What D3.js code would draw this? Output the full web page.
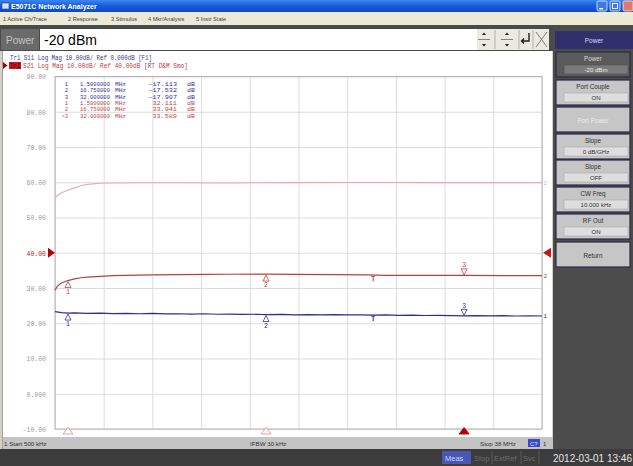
<!DOCTYPE html>
<html>
<head>
<meta charset="utf-8">
<script src="https://cdn.jsdelivr.net/npm/d3@7/dist/d3.min.js"></script>
<style>
  html, body { margin: 0; padding: 0; background: #3c3c3c; }
  svg { display: block; }
</style>
</head>
<body>
<svg id="screen" width="633" height="466"></svg>
<script>
// E5071C screen: S11 / S21 log-mag sweep, 500 kHz .. 38 MHz

const startMHz = 0.5, stopMHz = 38;
const yTickValues = [90, 80, 70, 60, 50, 40, 30, 20, 10, 0, -10];
const yTickLabels = ["90.00", "80.00", "70.00", "60.00", "50.00", "40.00", "30.00", "20.00", "10.00", "0.000", "-10.00"];
const refLevel = 40;        // Tr2 reference line (grid labels follow Tr2)
const s11Offset = 40;       // Tr1 ref 0 dB sits on the same division

// Tr2 S21 (dB)
const s21Freq = [0.5, 0.7, 1.0, 1.5, 2, 2.5, 3, 4, 5, 6, 8, 10, 12, 14, 16.75, 19, 22, 24.5, 26, 28, 30, 32, 35, 38];
const s21Db   = [29.4, 30.6, 31.4, 32.11, 32.6, 32.9, 33.1, 33.3, 33.5, 33.6, 33.75, 33.8, 33.85, 33.9, 33.94, 33.85, 33.8, 33.75, 33.6, 33.6, 33.6, 33.59, 33.5, 33.5];

// Tr1 S11 (dB)
const s11Freq = [0.5, 1, 1.5, 2, 3, 4, 5, 6, 7, 8, 9, 10, 11, 12, 13, 14, 15, 16, 16.75, 18, 19, 20, 21, 22, 23, 24, 25, 26, 27, 28, 29, 30, 31, 32, 33, 34, 35, 36, 37, 38];
const s11Db   = [-16.7, -17.0, -17.11, -17.05, -17.2, -17.1, -17.25, -17.2, -17.3, -17.2, -17.35, -17.3, -17.4, -17.3, -17.45, -17.4, -17.5, -17.45, -17.53, -17.5, -17.6, -17.55, -17.6, -17.55, -17.65, -17.6, -17.7, -17.65, -17.75, -17.7, -17.8, -17.75, -17.85, -17.91, -17.85, -17.9, -17.85, -17.95, -17.9, -17.95];

// memory trace (light pink, grid scale)
const memFreq = [0.5, 0.7, 1.0, 1.5, 2, 2.5, 3, 4, 5, 7, 10, 14, 18, 22, 26, 30, 34, 38];
const memDb   = [55.5, 56.3, 57.0, 57.7, 58.4, 59.0, 59.4, 59.7, 59.8, 59.85, 59.85, 59.8, 59.9, 59.95, 59.95, 59.9, 59.9, 59.9];

// markers
const markerFreq = [1.5, 16.75, 32];
const markerS11  = [-17.113, -17.532, -17.907];
const markerS21  = [32.111, 33.941, 33.589];
const refTickFreq = 25;
const refTickS21 = 33.6, refTickS11 = -17.7;

const menuItems = ["1 Active Ch/Trace", "2 Response", "3 Stimulus", "4 Mkr/Analysis", "5 Instr State"];
const menuX = [3, 68, 111, 148, 196];

const softkeys = [
  { label: "Power", value: "-20 dBm", sel: true },
  { label: "Port Couple", value: "ON" },
  { label: "Port Power", value: null, disabled: true },
  { label: "Slope", value: "0 dB/GHz" },
  { label: "Slope", value: "OFF" },
  { label: "CW Freq", value: "10.000 kHz" },
  { label: "RF Out", value: "ON" },
  { label: "Return", value: null },
];
const softkeyTop = [52, 80, 107, 134, 160, 187, 214, 242];
const softkeyH = 25;

const UI = "'Liberation Sans', Arial, sans-serif";
const MONO = "'Liberation Mono', 'DejaVu Sans Mono', monospace";

const svg = d3.select("#screen");
const defs = svg.append("defs");

// ---------- window chrome ----------
const tg = defs.append("linearGradient").attr("id", "titleGrad").attr("x1", 0).attr("y1", 0).attr("x2", 0).attr("y2", 1);
tg.append("stop").attr("offset", "0%").attr("stop-color", "#3d86f0");
tg.append("stop").attr("offset", "45%").attr("stop-color", "#1a5ede");
tg.append("stop").attr("offset", "100%").attr("stop-color", "#0b48c4");

svg.append("rect").attr("width", 633).attr("height", 466).attr("fill", "#d4d0c8");
svg.append("rect").attr("width", 633).attr("height", 12).attr("fill", "url(#titleGrad)");
svg.append("rect").attr("x", 2).attr("y", 3).attr("width", 7).attr("height", 6).attr("fill", "#d8e4f8").attr("stroke", "#203c80").attr("stroke-width", 0.6);
svg.append("text").attr("x", 11).attr("y", 9).attr("fill", "#fff").attr("font-family", UI)
  .attr("font-size", 7).attr("font-weight", 700).text("E5071C Network Analyzer");

const winBtns = [{ x: 597, c: "#3f78ea" }, { x: 610, c: "#3f78ea" }, { x: 623, c: "#e07a6a" }];
svg.selectAll(".winbtn").data(winBtns).join("rect")
  .attr("x", d => d.x).attr("y", 1).attr("width", 10).attr("height", 10).attr("rx", 1.5)
  .attr("fill", d => d.c).attr("stroke", "#fff").attr("stroke-width", 0.7);
svg.append("rect").attr("x", 599).attr("y", 8).attr("width", 4).attr("height", 1.4).attr("fill", "#fff");
svg.append("rect").attr("x", 612.5).attr("y", 3.5).attr("width", 5).attr("height", 5).attr("fill", "none").attr("stroke", "#fff").attr("stroke-width", 0.9);

svg.append("rect").attr("y", 12).attr("width", 633).attr("height", 13).attr("fill", "#ece9d8");
svg.selectAll(".menu").data(menuItems).join("text")
  .attr("x", (d, i) => menuX[i]).attr("y", 21).attr("fill", "#404040")
  .attr("font-family", UI).attr("font-size", 5.6).text(d => d);

// ---------- entry bar ----------
svg.append("rect").attr("y", 25).attr("width", 633).attr("height", 26).attr("fill", "#4a4a4a");
svg.append("rect").attr("x", 1).attr("y", 29).attr("width", 38).attr("height", 21).attr("fill", "#6a6a6a");
svg.append("text").attr("x", 6).attr("y", 44).attr("fill", "#c4c4c4").attr("font-family", UI).attr("font-size", 10).text("Power");
svg.append("rect").attr("x", 40).attr("y", 29).attr("width", 437).attr("height", 21).attr("fill", "#fff");
svg.append("text").attr("x", 44).attr("y", 45).attr("fill", "#000").attr("font-family", UI).attr("font-size", 14).text("-20 dBm");
svg.append("rect").attr("x", 477).attr("y", 29).attr("width", 72).attr("height", 21).attr("fill", "#eceae0");
[484, 507].forEach(cx => {
  svg.append("path").attr("d", `M${cx - 2},35 L${cx + 2},35 L${cx},32.5 Z M${cx - 2},44 L${cx + 2},44 L${cx},46.5 Z`).attr("fill", "#202020");
  svg.append("line").attr("x1", cx - 6).attr("x2", cx + 6).attr("y1", 39.5).attr("y2", 39.5).attr("stroke", "#808080");
});
[495, 519, 533].forEach(lx => svg.append("line").attr("x1", lx).attr("x2", lx).attr("y1", 30).attr("y2", 49).attr("stroke", "#b0b0b0"));
svg.append("path").attr("d", "M529,33 L529,41 L522,41 M524,38.5 L521.5,41 L524,43.5").attr("fill", "none").attr("stroke", "#202020").attr("stroke-width", 1.4);
svg.append("path").attr("d", "M536,32 L547,47 M547,32 L536,47").attr("stroke", "#606060").attr("stroke-width", 0.8);

// ---------- softkey panel ----------
svg.append("rect").attr("x", 553).attr("y", 25).attr("width", 80).attr("height", 425).attr("fill", "#4c4c4c");
svg.append("rect").attr("x", 555).attr("y", 31).attr("width", 78).attr("height", 18).attr("fill", "#30306c");
svg.append("text").attr("x", 594).attr("y", 42.5).attr("text-anchor", "middle").attr("fill", "#d8d8f0")
  .attr("font-family", UI).attr("font-size", 6.5).text("Power");

const keys = svg.selectAll(".key").data(softkeys).join("g").attr("transform", (d, i) => `translate(556,${softkeyTop[i]})`);
keys.append("rect").attr("width", 74).attr("height", softkeyH)
  .attr("fill", d => d.sel ? "#5a5a5a" : "#c6c6c6").attr("stroke", "#2a2a48").attr("stroke-width", 1.2);
keys.append("text").attr("x", 37).attr("y", d => d.value ? 9 : 15.5).attr("text-anchor", "middle")
  .attr("font-family", UI).attr("font-size", 6.3)
  .attr("fill", d => d.sel ? "#d8d8d8" : d.disabled ? "#ececec" : "#303030").text(d => d.label);
const vk = keys.filter(d => d.value);
vk.append("rect").attr("x", 8).attr("y", 13).attr("width", 64).attr("height", 9)
  .attr("fill", d => d.sel ? "#7a7a7a" : "#dedede").attr("stroke", d => d.sel ? "#505050" : "#a8a8a8").attr("stroke-width", 0.6);
vk.append("text").attr("x", 40).attr("y", 20).attr("text-anchor", "middle").attr("font-family", UI).attr("font-size", 6.1)
  .attr("fill", d => d.sel ? "#eeeeee" : "#303030").text(d => d.value);

// ---------- chart window ----------
svg.append("rect").attr("x", 3).attr("y", 51).attr("width", 549).attr("height", 386).attr("fill", "#fff");
svg.append("line").attr("x1", 2.5).attr("x2", 2.5).attr("y1", 51).attr("y2", 449).attr("stroke", "#a0a0a0");

const plot = { left: 55, right: 542, top: 76.5, bottom: 429 };
const x = d3.scaleLinear().domain([startMHz, stopMHz]).range([plot.left, plot.right]);
const y = d3.scaleLinear().domain([-10, 90]).range([plot.bottom, plot.top]);
const xDivs = d3.range(11).map(i => startMHz + i * (stopMHz - startMHz) / 10);

const gx = svg.append("g").attr("transform", `translate(0,${plot.bottom})`)
  .call(d3.axisBottom(x).tickValues(xDivs).tickSize(-(plot.bottom - plot.top)).tickFormat(""));
gx.select(".domain").remove();
gx.selectAll("line").attr("stroke", "#dcdcdc");

const gy = svg.append("g").attr("transform", `translate(${plot.left},0)`)
  .call(d3.axisLeft(y).tickValues(yTickValues).tickSize(-(plot.right - plot.left)).tickPadding(9)
    .tickFormat((d, i) => yTickLabels[i]));
gy.select(".domain").remove();
gy.selectAll("line").attr("stroke", "#dcdcdc");
gy.selectAll("text")
  .attr("font-family", MONO).attr("font-size", 7.5)
  .attr("fill", d => d === refLevel ? "#c01818" : "#9c9c9c")
  .attr("textLength", (d, i) => yTickLabels[i].length * 3.9).attr("lengthAdjust", "spacingAndGlyphs");

svg.append("rect").attr("x", plot.left).attr("y", plot.top).attr("width", plot.right - plot.left)
  .attr("height", plot.bottom - plot.top).attr("fill", "none").attr("stroke", "#b4b4b4").attr("stroke-width", 1);

// reference position arrows
const yRef = y(refLevel);
svg.append("path").attr("d", `M48,${yRef - 5} L55,${yRef} L48,${yRef + 5} Z`).attr("fill", "#b00000");
svg.append("path").attr("d", `M551,${yRef - 5} L543,${yRef} L551,${yRef + 5} Z`).attr("fill", "#c01818");

// ---------- traces ----------
const line = d3.line().x(d => x(d[0])).y(d => y(d[1]));
const traces = [
  { f: memFreq, v: memDb, off: 0, color: "#f2a8a8", w: 1.1, end: "2" },
  { f: s21Freq, v: s21Db, off: 0, color: "#b84040", w: 1.2, end: "2" },
  { f: s11Freq, v: s11Db, off: s11Offset, color: "#2c2c9c", w: 1.2, end: "1" },
];
traces.forEach(t => {
  const pts = t.f.map((f, i) => [f, t.v[i] + t.off]);
  svg.append("path").datum(pts).attr("fill", "none").attr("stroke", t.color).attr("stroke-width", t.w).attr("d", line);
  svg.append("text").attr("x", plot.right + 1.5).attr("y", y(pts[pts.length - 1][1]) + 2)
    .attr("font-family", MONO).attr("font-size", 6).attr("fill", t.color).text(t.end);
});

// marker glyphs on both traces
const markerSets = [
  { vals: markerS21, off: 0, color: "#b84040" },
  { vals: markerS11, off: s11Offset, color: "#2c2c9c" },
];
markerSets.forEach(ms => {
  markerFreq.forEach((f, i) => {
    const mx = x(f), my = y(ms.vals[i] + ms.off);
    const g = svg.append("g").attr("fill", "none").attr("stroke", ms.color).attr("stroke-width", 0.8);
    if (i < 2) {
      g.append("path").attr("d", `M${mx},${my + 1} L${mx - 3},${my + 7} L${mx + 3},${my + 7} Z`).attr("fill", "#fff");
      svg.append("text").attr("x", mx).attr("y", my + 13).attr("text-anchor", "middle")
        .attr("font-family", MONO).attr("font-size", 6.5).attr("fill", ms.color).text(i + 1);
    } else {
      g.append("path").attr("d", `M${mx},${my - 0.5} L${mx - 3},${my - 6.5} L${mx + 3},${my - 6.5} Z`).attr("fill", "#fff");
      svg.append("text").attr("x", mx).attr("y", my - 8).attr("text-anchor", "middle")
        .attr("font-family", MONO).attr("font-size", 6.5).attr("fill", ms.color).text(i + 1);
    }
  });
});

// small reference ticks on the traces
[[refTickS21, 0, "#b84040"], [refTickS11, s11Offset, "#2c2c9c"]].forEach(([v, off, c]) => {
  const tx = x(refTickFreq), ty = y(v + off);
  svg.append("path").attr("d", `M${tx - 2},${ty + 1} L${tx + 2},${ty + 1} M${tx},${ty + 1} L${tx},${ty + 6}`)
    .attr("stroke", c).attr("stroke-width", 1);
});

// stimulus markers along the bottom edge
markerFreq.forEach((f, i) => {
  const mx = x(f);
  svg.append("path").attr("d", `M${mx},${plot.bottom - 1.5} L${mx - 5},${plot.bottom + 5} L${mx + 5},${plot.bottom + 5} Z`)
    .attr("fill", i === 2 ? "#b00000" : "#fff").attr("stroke", i === 2 ? "#b00000" : "#e89090").attr("stroke-width", 0.9);
});

// ---------- trace header ----------
svg.append("text").attr("x", 10).attr("y", 60).attr("fill", "#3434a0").attr("font-family", MONO).attr("font-size", 6.4)
  .attr("textLength", 142).attr("lengthAdjust", "spacingAndGlyphs")
  .text("Tr1 S11 Log Mag 10.00dB/ Ref 0.000dB [F1]");
svg.append("path").attr("d", "M3,62 L7.5,65.5 L3,69 Z").attr("fill", "#a00000");
svg.append("rect").attr("x", 9).attr("y", 62).attr("width", 12).attr("height", 7).attr("fill", "#c01c1c");
svg.append("text").attr("x", 10).attr("y", 68).attr("fill", "#5a0000").attr("font-family", MONO).attr("font-size", 6.4)
  .attr("textLength", 10).attr("lengthAdjust", "spacingAndGlyphs").text("Tr2");
svg.append("text").attr("x", 23).attr("y", 68).attr("fill", "#c04040").attr("font-family", MONO).attr("font-size", 6.4)
  .attr("textLength", 165).attr("lengthAdjust", "spacingAndGlyphs")
  .text("S21 Log Mag 10.00dB/ Ref 40.00dB [RT D&M Smo]");

// ---------- marker readout ----------
const fmtFreq = d3.format(".8r"), fmtDb = d3.format(".3f");
const readout = [];
markerFreq.forEach((f, i) => readout.push({ num: String(i + 1), f, v: markerS11[i], color: "#3434a0" }));
markerFreq.forEach((f, i) => readout.push({ num: (i === 2 ? ">" : "") + (i + 1), f, v: markerS21[i], color: "#c04848" }));

const rows = svg.selectAll(".ro").data(readout).join("g")
  .attr("transform", (d, i) => `translate(0,${86 + i * 6.3})`)
  .attr("font-family", MONO).attr("font-size", 5.6).attr("fill", d => d.color);
const fit = s => s.attr("lengthAdjust", "spacingAndGlyphs");
rows.append("text").attr("x", 68).attr("text-anchor", "end").text(d => d.num)
  .attr("textLength", d => d.num.length * 3.3).call(fit);
rows.append("text").attr("x", 80).text(d => fmtFreq(d.f)).attr("textLength", 30).call(fit);
rows.append("text").attr("x", 115).text("MHz").attr("textLength", 11).call(fit);
rows.append("text").attr("x", 177).attr("text-anchor", "end").text(d => fmtDb(d.v))
  .attr("textLength", d => fmtDb(d.v).length * 4.1).call(fit);
rows.append("text").attr("x", 187).text("dB").attr("textLength", 8).call(fit);

// ---------- status bars ----------
svg.append("rect").attr("x", 3).attr("y", 437).attr("width", 550).attr("height", 12).attr("fill", "#c4c4c4");
const stat = [["1  Start 500 kHz", 4], ["IFBW 30 kHz", 250], ["Stop 38 MHz", 480]];
stat.forEach(([t, sx]) => svg.append("text").attr("x", sx).attr("y", 445.5).attr("fill", "#303030")
  .attr("font-family", UI).attr("font-size", 6.2).text(t));
svg.append("rect").attr("x", 528).attr("y", 439).attr("width", 12).attr("height", 8).attr("fill", "#3a4ac4");
svg.append("text").attr("x", 530).attr("y", 445.5).attr("fill", "#e0e0ff").attr("font-family", UI).attr("font-size", 6).text("C?");
svg.append("text").attr("x", 543).attr("y", 445.5).attr("fill", "#303030").attr("font-family", UI).attr("font-size", 6).text("1");

svg.append("rect").attr("y", 449).attr("width", 633).attr("height", 17).attr("fill", "#3c3c3c");
svg.append("rect").attr("x", 442).attr("y", 451).attr("width", 29).attr("height", 13).attr("fill", "#4a56b4");
const states = [["Meas", 445, "#d0d4ff"], ["Stop", 474, "#6c6c6c"], ["ExtRef", 494, "#6c6c6c"], ["Svc", 523, "#6c6c6c"]];
states.forEach(([t, sx, c]) => svg.append("text").attr("x", sx).attr("y", 461).attr("fill", c)
  .attr("font-family", UI).attr("font-size", 7.5).text(t));
[492, 521, 539].forEach(lx => svg.append("line").attr("x1", lx).attr("x2", lx).attr("y1", 451).attr("y2", 464).attr("stroke", "#5a5a5a"));
svg.append("text").attr("x", 553).attr("y", 462).attr("fill", "#e4e4e4").attr("font-family", UI).attr("font-size", 10)
  .text("2012-03-01 13:46");
</script>
</body>
</html>
